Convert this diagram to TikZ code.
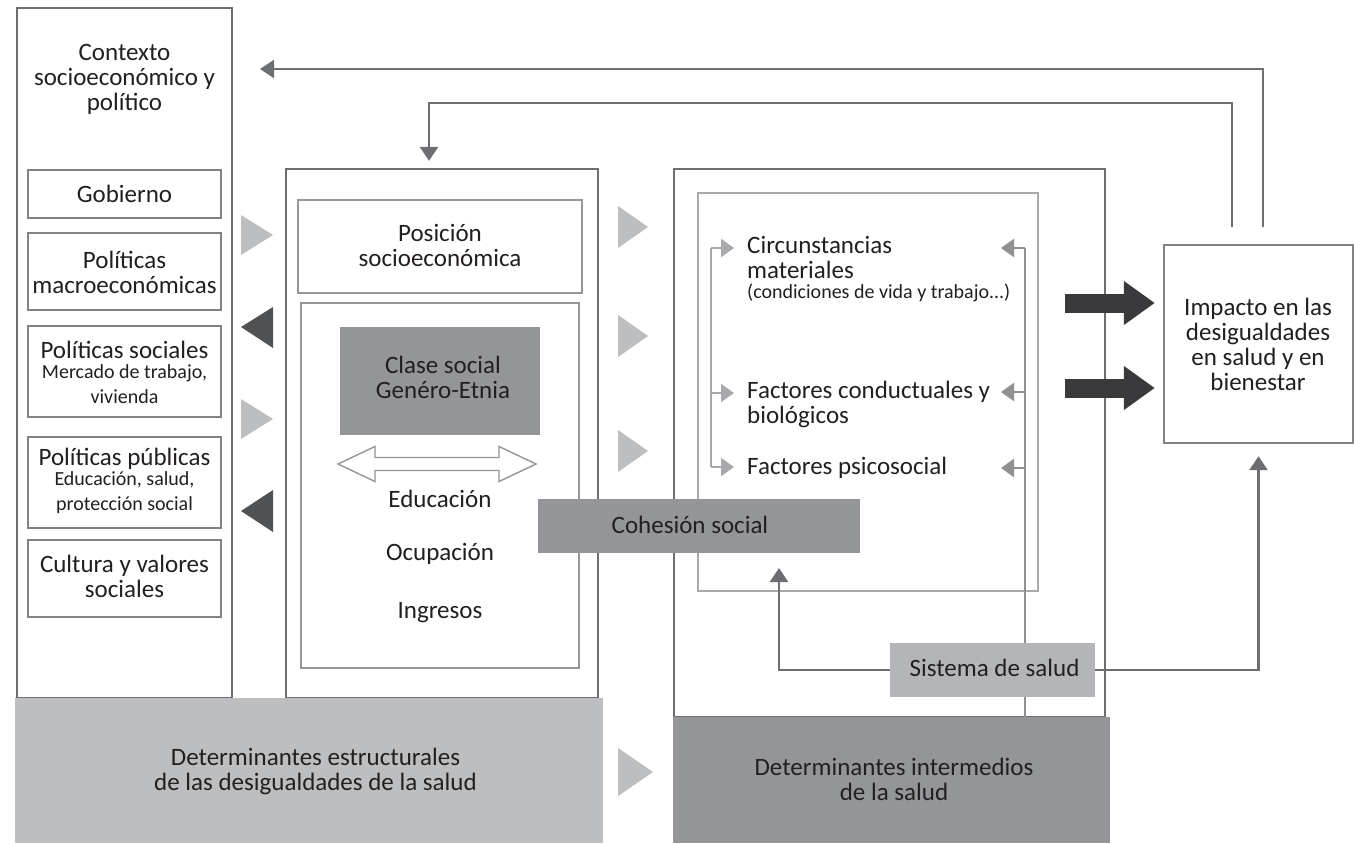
\documentclass[tikz,border=0pt]{standalone}
\usepackage{fontspec}
\setmainfont{Carlito}
\usetikzlibrary{arrows.meta}
\definecolor{lnc}{HTML}{6D6E71}
\definecolor{bxc}{HTML}{808285}
\definecolor{inc}{HTML}{A7A9AC}
\definecolor{lightfill}{HTML}{BCBEC0}
\definecolor{midfill}{HTML}{939598}
\definecolor{sisfill}{HTML}{B3B5B8}
\definecolor{tridark}{HTML}{505153}
\definecolor{bigarr}{HTML}{3A3A3C}
\definecolor{txc}{HTML}{231F20}
\newcommand\BigF{\fontsize{25}{25}\selectfont}
\newcommand\SmF{\fontsize{20}{19}\selectfont}
\begin{document}
\begin{tikzpicture}[x=1pt,y=-1pt,
  frame/.style={draw=bxc,line width=2.4pt,fill=white,inner sep=0pt},
  outer/.style={draw=lnc,line width=2.2pt,fill=white,inner sep=0pt},
  inbox/.style={draw=inc,line width=2.2pt,fill=white,inner sep=0pt},
  solid box/.style={draw=none,inner sep=0pt},
  txt/.style={text=txc,font=\BigF,align=center,inner sep=0pt},
  ltxt/.style={text=txc,font=\BigF,align=left,inner sep=0pt},
  conn/.style={draw=lnc,line width=2.5pt,-{Triangle[length=14pt,width=18pt]}},
  plainline/.style={draw=lnc,line width=2.5pt},
  lline/.style={draw=inc,line width=2.2pt},
  larr/.style={draw=inc,line width=2.2pt,-{Triangle[length=13pt,width=18pt]}},
  lighttri/.style={fill=lightfill},
  darktri/.style={fill=tridark},
  bigarrow/.style={draw=bigarr,line width=19pt,-{Triangle[length=31pt,width=42pt]}},
]
\useasboundingbox (0,0) rectangle (1354,843);

% ---------- left column ----------
\node[outer,minimum width=215pt,minimum height=690pt] (ctx) at (124.5,353) {};
\node[txt,anchor=north] (ctxt) at (124.5,44) {Contexto\\socioeconómico y\\político};
\node[frame,minimum width=193pt,minimum height=48pt] (gob) at (124.5,194) {};
\node[txt,anchor=base] (gobt) at (124.5,202) {Gobierno};
\node[frame,minimum width=193pt,minimum height=77pt] (mac) at (124.5,271.5) {};
\node[txt,anchor=north] (mact) at (124.5,250.5) {Políticas\\macroeconómicas};
\node[frame,minimum width=193pt,minimum height=91pt] (soc) at (124.5,371.5) {};
\node[txt,anchor=north] (soct) at (124.5,340.5) {Políticas sociales\\[-5pt]\SmF Mercado de trabajo,\\\SmF vivienda};
\node[frame,minimum width=193pt,minimum height=91pt] (pub) at (124.5,482.5) {};
\node[txt,anchor=north] (pubt) at (124.5,447.5) {Políticas públicas\\[-5pt]\SmF Educación, salud,\\\SmF protección social};
\node[frame,minimum width=193pt,minimum height=77pt] (cul) at (124.5,578.5) {};
\node[txt,anchor=north] (cult) at (124.5,554.5) {Cultura y valores\\sociales};

% ---------- middle column ----------
\node[outer,minimum width=312pt,minimum height=529pt] (posout) at (442,433.5) {};
\node[inbox,draw=midfill,minimum width=284pt,minimum height=93pt] (pos) at (440,246.5) {};
\node[txt,anchor=north] (post) at (440,224.5) {Posición\\socioeconómica};
\node[inbox,draw=midfill,minimum width=278pt,minimum height=365pt] (posin) at (440,485.5) {};
\node[solid box,fill=midfill,minimum width=200pt,minimum height=108pt] (clase) at (440,381) {};
\node[txt,anchor=north] (claset) at (443,355.5) {Clase social\\Genéro-Etnia};
\filldraw[draw=midfill,fill=white,line width=1.4pt,line join=miter]
  (338,464) -- (375,446.5) -- (375,457.5) -- (499,457.5) -- (499,446.5) -- (536,464)
  -- (499,481.5) -- (499,470.5) -- (375,470.5) -- (375,481.5) -- cycle;
\node[txt,anchor=base] (edu) at (440,507) {Educación};
\node[txt,anchor=base] (ocu) at (440,560) {Ocupación};
\node[txt,anchor=base] (ing) at (440,618) {Ingresos};

% ---------- right column ----------
\node[outer,minimum width=431pt,minimum height=548pt] (intout) at (889.5,443) {};
\node[inbox,minimum width=340pt,minimum height=398pt] (intin) at (868,392) {};
\node[ltxt,anchor=north west] (circ) at (747,236.5) {Circunstancias\\materiales\\[-5pt]\SmF(condiciones de vida y trabajo...)};
\node[ltxt,anchor=north west] (fcb) at (747,380.5) {Factores conductuales y\\biológicos};
\node[ltxt,anchor=base west] (fps) at (747,474) {Factores psicosocial};

% left light bracket
\coordinate (lt) at (711,248);
\coordinate (lm) at (711,393);
\coordinate (lb) at (711,467);
\draw[lline] (lt) -- (lb);
\draw[larr,shorten >=13pt] (lt) -- (lt -| circ.west);
\draw[larr,shorten >=13pt] (lm) -- (lm -| fcb.west);
\draw[larr,shorten >=13pt] (lb) -- (lb -| fps.west);

% impact box
\node[frame,minimum width=189pt,minimum height=198pt] (imp) at (1258.5,344) {};
\node[txt,anchor=north] (impt) at (1258,297.5) {Impacto en las\\desigualdades\\en salud y en\\bienestar};

% right light bracket (from intermedios up)
\node[solid box,fill=midfill,minimum width=437pt,minimum height=126pt] (dint) at (891.5,780) {};
\coordinate (rt) at (1025,248);
\coordinate (rm) at (1025,392);
\coordinate (rb) at (1025,468);
\coordinate (ra1) at (1001,248);
\coordinate (ra2) at (1001,392);
\coordinate (ra3) at (1001,468);
\draw[lline,draw=inc!85!black] (dint.north -| rt) -- (rt);
\draw[larr,draw=inc!85!black] (rt) -- (ra1);
\draw[larr,draw=inc!85!black] (rm) -- (ra2);
\draw[larr,draw=inc!85!black] (rb) -- (ra3);

% big dark arrows
\coordinate (ba1) at (1065,303);
\coordinate (ba2) at (1065,388);
\draw[bigarrow,shorten >=8pt] (ba1) -- (ba1 -| imp.west);
\draw[bigarrow,shorten >=8pt] (ba2) -- (ba2 -| imp.west);

% feedback lines
\coordinate (fbA) at (1263,227);
\coordinate (fbAend) at (260,69);
\draw[conn] (fbA) |- (fbAend);
\coordinate (fbB) at (1232,227);
\coordinate (fbBturn) at (429,103);
\draw[conn,shorten >=7pt] (fbB) |- (fbBturn) -- (fbBturn |- posout.north);

% block triangles
\fill[lighttri] (241,215) -- (273,235) -- (241,255) -- cycle;
\fill[darktri]  (273,307) -- (241,327) -- (273,348) -- cycle;
\fill[lighttri] (241,399) -- (273,419) -- (241,439) -- cycle;
\fill[darktri]  (273,490) -- (241,511) -- (273,532) -- cycle;
\fill[lighttri] (618,206) -- (648,227) -- (618,248) -- cycle;
\fill[lighttri] (618,315) -- (648,336) -- (618,357) -- cycle;
\fill[lighttri] (618,430) -- (648,451) -- (618,472) -- cycle;
\fill[lighttri] (618,748) -- (653,772) -- (618,796) -- cycle;

% cohesion social
\node[solid box,fill=midfill,minimum width=322pt,minimum height=54pt] (coh) at (699,526) {};
\node[txt,anchor=base] (coht) at (690,533) {Cohesión social};

% sistema de salud
\coordinate (cohup) at (779,568);
\node[solid box,fill=sisfill,minimum width=205pt,minimum height=54pt] (sis) at (992.5,670) {};
\draw[conn] (sis.west) -| (cohup);
\draw[conn,shorten >=12pt] (sis.east) -| (imp.south);
\node[txt,anchor=base] (sist) at (994.5,676) {Sistema de salud};

% bottom boxes
\node[solid box,fill=lightfill,minimum width=588pt,minimum height=145pt] (dest) at (309,770.5) {};
\node[txt,anchor=north] (destt) at (315.5,747.5) {Determinantes estructurales\\de las desigualdades de la salud};
\node[txt,anchor=north] (dintt) at (894,757.5) {Determinantes intermedios\\de la salud};
\end{tikzpicture}
\end{document}
